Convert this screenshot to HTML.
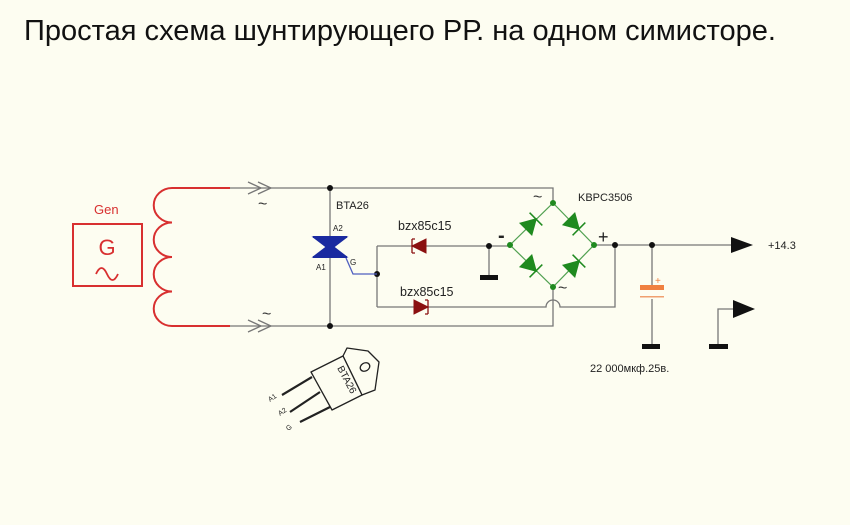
<!DOCTYPE html>
<html><head><meta charset="utf-8"><style>
html,body{margin:0;padding:0;background:#fdfdf1;}
svg{display:block;font-family:"Liberation Sans",sans-serif;}
</style></head><body>
<svg width="850" height="525" viewBox="0 0 850 525" xmlns="http://www.w3.org/2000/svg">
<rect width="850" height="525" fill="#fdfdf1"/>
<text x="24" y="40" font-size="29" fill="#111" textLength="752" lengthAdjust="spacingAndGlyphs">Простая схема шунтирующего РР. на одном симисторе.</text>

<!-- Generator -->
<g stroke="#d83030" fill="none" stroke-width="2">
<rect x="73" y="224" width="69" height="62"/>
<path d="M230 188 H172 a18 17 0 0 0 0 34.5 a18 17 0 0 0 0 34.5 a18 17 0 0 0 0 34.5 a18 17 0 0 0 0 34.5 H230"/>
<path d="M96 274 q5.5 -12 11 0 q5.5 12 11 0" stroke-width="1.8"/>
</g>
<text x="94" y="214" font-size="13" fill="#d83030">Gen</text>
<text x="107" y="255" font-size="22" fill="#d83030" text-anchor="middle">G</text>

<!-- wires -->
<g stroke="#777" fill="none" stroke-width="1.3">
<path d="M230 188 H553 V203"/>
<path d="M230 326 H553 V287"/>
<path d="M248 182 l13 6 l-13 6 M258 182 l13 6 l-13 6"/>
<path d="M248 320 l13 6 l-13 6 M258 320 l13 6 l-13 6"/>
<path d="M330 188 V326"/>
<path d="M377 246 V307"/>
<path d="M377 246 H510"/>
<path d="M489 246 V277"/>
<path d="M377 307 H546 a7 7 0 0 1 14 0 H615 V245"/>
<path d="M594 245 H735"/>
<path d="M652 245 V285 M652 299 V346"/>
<path d="M718 346 V309 H735"/>
</g>
<g fill="#111">
<circle cx="330" cy="188" r="3"/><circle cx="330" cy="326" r="3"/>
<circle cx="377" cy="274" r="3"/><circle cx="489" cy="246" r="3"/>
<circle cx="615" cy="245" r="3"/><circle cx="652" cy="245" r="3"/>
<rect x="480" y="275" width="18" height="5"/>
<rect x="642" y="344" width="18" height="5"/>
<rect x="709" y="344" width="19" height="5"/>
<path d="M731 237 L753 245 L731 253 Z"/>
<path d="M733 300 L755 309 L733 318 Z"/>
</g>
<text x="258" y="209" font-size="16" fill="#333">~</text>
<text x="262" y="319" font-size="16" fill="#333">~</text>

<!-- Triac -->
<path d="M346 258 L353 274 H377" stroke="#5060c0" fill="none" stroke-width="1.3"/>
<g fill="#1a2aa0" stroke="#1a2aa0">
<path d="M313 237 H347 L330 250 Z"/>
<path d="M313 257 H347 L330 244 Z"/>
<path d="M313 237 H347 M313 257 H347" stroke-width="2"/>
</g>
<text x="336" y="209" font-size="11" fill="#222">BTA26</text>
<text x="333" y="231" font-size="8" fill="#222">A2</text>
<text x="316" y="270" font-size="8" fill="#222">A1</text>
<text x="350" y="265" font-size="8" fill="#222">G</text>

<!-- Zeners -->
<g fill="#8b1010" stroke="#8b1010">
<path d="M426 239 V253 L412 246 Z"/>
<path d="M412 239 V253 M412 239 h3 M412 253 h3" stroke-width="1.3" fill="none"/>
<path d="M414 300 V314 L428 307 Z"/>
<path d="M428 300 V314 M428 300 h-3 M428 314 h-3" stroke-width="1.3" fill="none"/>
</g>
<text x="398" y="230" font-size="12.5" fill="#222">bzx85c15</text>
<text x="400" y="296" font-size="12.5" fill="#222">bzx85c15</text>

<!-- Bridge -->
<g stroke="#50a050" fill="none" stroke-width="1.2">
<path d="M553 203 L594 245 L553 287 L510 245 Z"/>
</g>
<g fill="#1f8a1f" stroke="#1f8a1f" stroke-width="1.5">
<g transform="translate(531 224) rotate(-45)"><path d="M-7 -8 L7 0 L-7 8 Z"/><path d="M7 -9 V9"/></g>
<g transform="translate(574 224) rotate(45)"><path d="M-7 -8 L7 0 L-7 8 Z"/><path d="M7 -9 V9"/></g>
<g transform="translate(531 266) rotate(45)"><path d="M-7 -8 L7 0 L-7 8 Z"/><path d="M7 -9 V9"/></g>
<g transform="translate(574 266) rotate(-45)"><path d="M-7 -8 L7 0 L-7 8 Z"/><path d="M7 -9 V9"/></g>
</g>
<g fill="#1f8a1f"><circle cx="553" cy="203" r="3"/><circle cx="553" cy="287" r="3"/><circle cx="510" cy="245" r="3"/><circle cx="594" cy="245" r="3"/></g>
<text x="578" y="201" font-size="11" fill="#222">KBPC3506</text>
<text x="533" y="202" font-size="16" fill="#333">~</text>
<text x="558" y="293" font-size="16" fill="#333">~</text>
<text x="498" y="242" font-size="20" fill="#222" font-weight="bold">-</text>
<text x="598" y="243" font-size="18" fill="#222">+</text>
<text x="768" y="249" font-size="11" fill="#222">+14.3</text>

<!-- Capacitor -->
<rect x="640" y="285" width="24" height="5" fill="#f08040"/>
<rect x="640" y="296" width="24" height="1.5" fill="#f0a070"/>
<text x="655" y="284" font-size="10" fill="#f08040">+</text>
<text x="590" y="372" font-size="11" fill="#222">22 000мкф.25в.</text>

<!-- Package -->
<g stroke="#222" fill="none" stroke-width="1.3" stroke-linejoin="round">
<path d="M312 377 L282 395 M320 392 L290 412 M330 407 L300 422" stroke-width="2.2"/>
<path d="M343 356 L347 348 L368 351 L379 362 L375 390 L362 395 Z" fill="#fdfdf1"/>
<path d="M311 372 L343 356 L362 395 L332 410 Z" fill="#fdfdf1"/>
<ellipse cx="365" cy="367" rx="5" ry="4" transform="rotate(-30 365 367)"/>
</g>
<text transform="translate(337 368) rotate(62)" font-size="10" fill="#222">BTA26</text>
<text transform="translate(270 402) rotate(-35)" font-size="7" fill="#222">A1</text>
<text transform="translate(280 416) rotate(-35)" font-size="7" fill="#222">A2</text>
<text transform="translate(288 431) rotate(-35)" font-size="7" fill="#222">G</text>
</svg>
</body></html>
